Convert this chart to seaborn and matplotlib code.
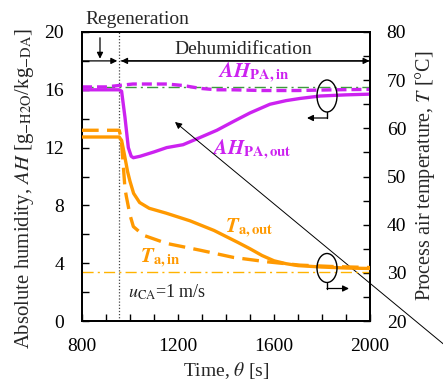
import numpy as np
import pandas as pd
import matplotlib
matplotlib.use("Agg")
import matplotlib.pyplot as plt
import seaborn as sns
from matplotlib.patches import Ellipse

# ---------------- data ----------------
t_ah_out = [800, 900, 955, 965, 979, 993, 1005, 1014, 1042, 1100, 1153, 1221, 1292, 1362, 1430, 1500, 1583, 1650, 1708, 1792, 1900, 2000]
ah_out   = [16.0, 16.0, 16.0, 15.9, 14.1, 12.0, 11.4, 11.3, 11.4, 11.7, 12.0, 12.2, 12.7, 13.2, 13.8, 14.4, 15.0, 15.25, 15.4, 15.57, 15.65, 15.7]

t_ah_in = [800, 900, 955, 1012, 1080, 1154, 1220, 1292, 1360, 1430, 1550, 1700, 1850, 2000]
ah_in   = [16.2, 16.2, 16.3, 16.4, 16.4, 16.4, 16.3, 16.1, 16.0, 16.0, 15.95, 15.95, 16.0, 16.03]

t_t_out = [800, 900, 955, 965, 975, 990, 1000, 1015, 1040, 1080, 1150, 1250, 1350, 1450, 1500, 1550, 1600, 1650, 1700, 1800, 1900, 2000]
T_out   = [58.2, 58.2, 58.2, 57.5, 55.0, 51.0, 49.0, 46.5, 44.6, 43.4, 42.4, 40.8, 38.8, 36.3, 35.0, 33.6, 32.5, 31.9, 31.5, 31.2, 31.0, 30.9]

t_t_in = [800, 900, 955, 963, 971, 979, 985, 1000, 1014, 1056, 1153, 1292, 1431, 1569, 1708, 1850, 2000]
T_in   = [59.6, 59.6, 59.6, 58.0, 53.0, 47.5, 45.8, 42.0, 39.6, 37.8, 36.1, 34.7, 33.2, 32.3, 31.6, 31.3, 31.1]

ah_ref = 16.2   # green dash-dot reference
T_ref = 30.1    # orange dash-dot reference
t_switch = 955  # regeneration -> dehumidification

left_label = r"Absolute humidity, $AH$ [g$_{\mathrm{-H2O}}$/kg$_{\mathrm{-DA}}$]"
right_label = r"Process air temperature, $T$ [°C]"

MAG = "#CC22F0"
ORA = "#FF9900"
SERIF = ["Liberation Serif", "DejaVu Serif"]

sns.set_theme(style="ticks")
plt.rcParams["font.family"] = SERIF
plt.rcParams["font.serif"] = SERIF
plt.rcParams["mathtext.fontset"] = "stix"
plt.rcParams["font.size"] = 14

W, H = 443, 385
fig = plt.figure(figsize=(W/100, H/100), dpi=100)
ax = fig.add_axes([82/W, 1-321/H, 288/W, 289/H])
ax2 = ax.twinx()

df_ao = pd.DataFrame({"t": t_ah_out, "v": ah_out})
df_ai = pd.DataFrame({"t": t_ah_in, "v": ah_in})
df_to = pd.DataFrame({"t": t_t_out, "v": T_out})
df_ti = pd.DataFrame({"t": t_t_in, "v": T_in})

ax.axhline(ah_ref, color="#3C9A3C", lw=1.0, ls=(0, (8, 3, 1.5, 3)), zorder=1)
sns.lineplot(data=df_ai, x="t", y="v", ax=ax, color=MAG, lw=2.4, ls=(0, (3, 1.5)), zorder=3)
sns.lineplot(data=df_ao, x="t", y="v", ax=ax, color=MAG, lw=2.4, zorder=3)

ax2.axhline(T_ref, color="#FFB300", lw=1.0, ls=(0, (8, 3, 1.5, 3)), zorder=1)
sns.lineplot(data=df_ti, x="t", y="v", ax=ax2, color=ORA, lw=2.4, ls=(0, (5, 2.5)), zorder=3)
sns.lineplot(data=df_to, x="t", y="v", ax=ax2, color=ORA, lw=2.4, zorder=3)

ax.set_xlim(800, 2000)
ax.set_ylim(0, 20)
ax2.set_ylim(20, 80)
ax.set_xticks([800, 1200, 1600, 2000])
ax.set_xticks(np.arange(800, 2001, 100), minor=True)
ax.set_yticks([0, 4, 8, 12, 16, 20])
ax.set_yticks(np.arange(0, 21, 2), minor=True)
ax2.set_yticks([20, 30, 40, 50, 60, 70, 80])
ax2.set_yticks(np.arange(20, 81, 5), minor=True)

for a in (ax, ax2):
    a.tick_params(which="both", direction="in", width=1.0, colors="black", labelsize=14)
    a.tick_params(which="major", length=5)
    a.tick_params(which="minor", length=5)
    for s in a.spines.values():
        s.set_linewidth(1.3)
        s.set_color("black")
    for lab in a.get_xticklabels() + a.get_yticklabels():
        lab.set_fontfamily(SERIF)
ax.tick_params(axis="x", which="both", top=False, pad=12)
ax.tick_params(axis="y", which="major", pad=13)
ax2.tick_params(axis="y", which="major", pad=12)

ax.set_xlabel(r"Time, $\theta$ [s]", fontsize=14, labelpad=4)
ax.set_ylabel("")
ax2.set_ylabel("")

# axis titles placed as figure text, sized to the reference extents
fig.canvas.draw()
rend = fig.canvas.get_renderer()
for txt, xc, yc, target in [(left_label, 25, 189, 322), (right_label, 425, 176, 252)]:
    t = fig.text(xc/W, 1-yc/H, txt, rotation=90, ha="center", va="center", fontsize=14)
    h = t.get_window_extent(rend).height
    t.set_fontsize(14 * target / h)

# regeneration / dehumidification markers
ax.axvline(t_switch, color="#444444", lw=0.9, ls=(0, (1, 1.5)), zorder=2)
arw = dict(arrowstyle="-|>", color="black", lw=0.9, mutation_scale=9, shrinkA=0, shrinkB=0)
ax.annotate("", xy=(t_switch - 8, 18), xytext=(800, 18), arrowprops=arw)
ax.annotate("", xy=(t_switch + 8, 18), xytext=(2000, 18), arrowprops=arw)
ax.annotate("", xy=(1998, 18), xytext=(t_switch + 8, 18), arrowprops=arw)
ax.annotate("", xy=(875, 18.15), xytext=(875, 19.6), arrowprops=arw, annotation_clip=False)
fig.text(137/W, 1-19/H, "Regeneration", ha="center", va="center", fontsize=14)
ax.text(1470, 18.8, "Dehumidification", ha="center", va="center", fontsize=14)

# series labels
ax.text(1515, 20 - (73-32)/14.45, r"$\mathbfit{AH}_{\mathbf{PA,in}}$", color=MAG,
        ha="center", va="center", fontsize=15)
ax.text(1505, 20 - (150-32)/14.45, r"$\mathbfit{AH}_{\mathbf{PA,out}}$", color=MAG,
        ha="center", va="center", fontsize=15)
ax2.text(1495, 20 + (321-228)/4.817, r"$\mathbfit{T}_{\mathbf{a,out}}$", color=ORA,
         ha="center", va="center", fontsize=15)
ax2.text(1125, 20 + (321-258)/4.817, r"$\mathbfit{T}_{\mathbf{a,in}}$", color=ORA,
         ha="center", va="center", fontsize=15)
ax.text(990, 20 - (292-32)/14.45, r"$u_{\mathrm{CA}}$=1 m/s", color="#222222",
        ha="left", va="center", fontsize=13)

# ellipses with leader arrows (figure pixel positions)
for (cx, cy, h, xe) in [(327, 96, 32, 307), (327, 268, 29, 349)]:
    e = Ellipse((cx/W, 1-cy/H), 20/W, h/H, transform=fig.transFigure,
                fill=False, ec="black", lw=1.0, zorder=5)
    fig.add_artist(e)
    yb = cy + h/2
    fig.add_artist(plt.Line2D([cx/W, cx/W], [1-yb/H, 1-(yb+6)/H], color="black", lw=1.0))
    ax.annotate("", xy=(xe/W, 1-(yb+6)/H), xytext=(cx/W, 1-(yb+6)/H),
                xycoords="figure fraction", textcoords="figure fraction", arrowprops=arw)

# long diagonal arrow
ax.annotate("", xy=(175/W, 1-122/H), xytext=(470/W, 1-366/H),
            xycoords="figure fraction", textcoords="figure fraction",
            arrowprops=dict(arrowstyle="-|>", color="black", lw=0.7, mutation_scale=10,
                            shrinkA=0, shrinkB=0), annotation_clip=False)

fig.savefig("out.png", dpi=100)
